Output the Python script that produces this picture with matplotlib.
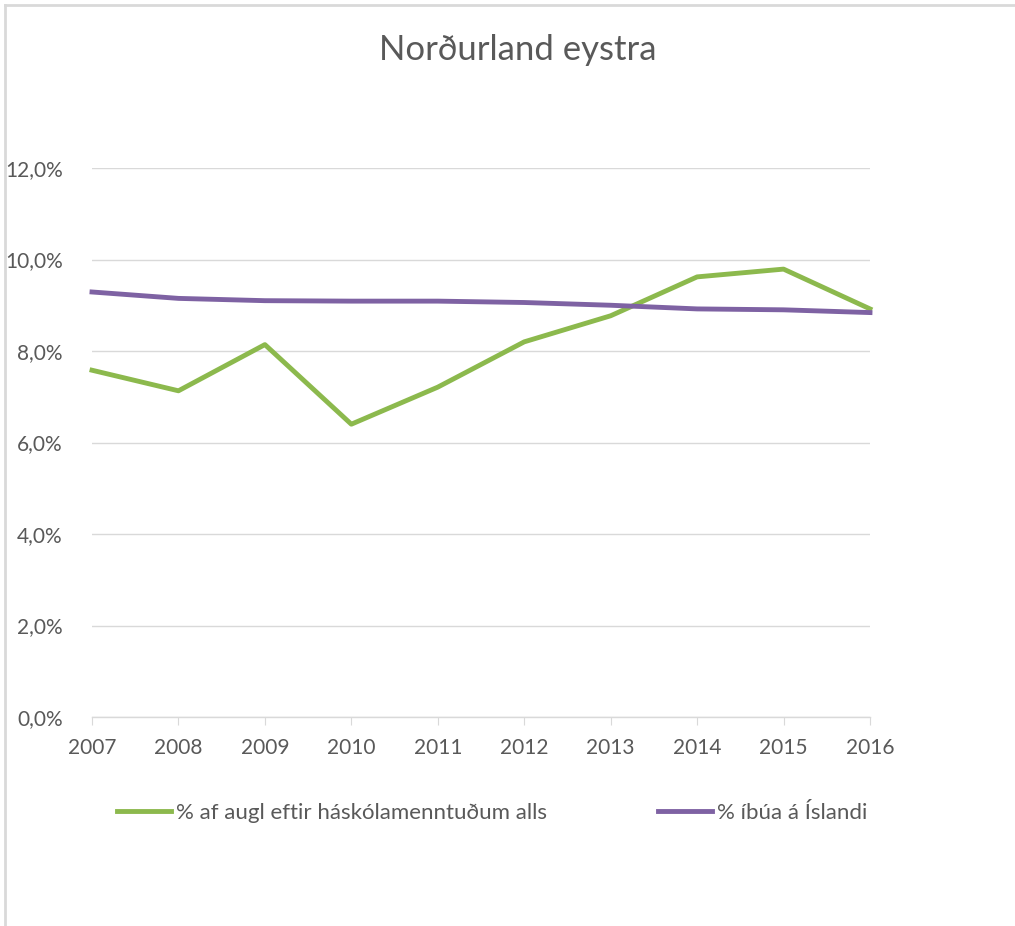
import matplotlib
matplotlib.use("Agg")
import matplotlib.pyplot as plt
from matplotlib.lines import Line2D
from matplotlib.ticker import FuncFormatter, FixedLocator

plt.rcParams['font.family'] = ['Lato', 'DejaVu Sans']

years = [2007, 2008, 2009, 2010, 2011, 2012, 2013, 2014, 2015, 2016]
augl = [0.0758, 0.0713, 0.0814, 0.0640, 0.0721, 0.0820, 0.0877, 0.0962, 0.0979, 0.0892]
ibua = [0.0929, 0.0915, 0.0910, 0.0909, 0.0909, 0.0906, 0.0900, 0.0892, 0.0890, 0.0884]
series_names = ["% af augl eftir háskólamenntuðum alls", "% íbúa á Íslandi"]
title = "Norðurland eystra"

W, H = 1015, 926
fig = plt.figure(figsize=(W/100, H/100), dpi=100)
fig.patch.set_facecolor('white')

# outer chart border (top and left visible)
fig.add_artist(Line2D([5/W, 5/W], [0, 1-5/H], color='#D9D9D9', lw=2, transform=fig.transFigure))
fig.add_artist(Line2D([5/W, 1], [1-5/H, 1-5/H], color='#D9D9D9', lw=2, transform=fig.transFigure))

left, right = 92/W, 870/W
bottom, top = 1-717/H, 1-168/H
ax = fig.add_axes([left, bottom, right-left, top-bottom])

green = '#8CB94D'
purple = '#7E62A3'
text_col = '#595959'

ax.plot(years, augl, color=green, lw=3.5, clip_on=False, label=series_names[0], zorder=3)
ax.plot(years, ibua, color=purple, lw=3.5, clip_on=False, label=series_names[1], zorder=4)

ax.set_xlim(years[0], years[-1])
ax.set_ylim(0, 0.12)
ax.yaxis.set_major_locator(FixedLocator([0, 0.02, 0.04, 0.06, 0.08, 0.10, 0.12]))
ax.yaxis.set_major_formatter(FuncFormatter(lambda v, p: f"{v*100:.1f}%".replace('.', ',')))
ax.set_xticks(years)
ax.set_xticklabels([str(y) for y in years])

ax.grid(axis='y', color='#D9D9D9', lw=1)
ax.set_axisbelow(True)
for s in ['top', 'right', 'left']:
    ax.spines[s].set_visible(False)
ax.spines['bottom'].set_color('#D9D9D9')
ax.spines['bottom'].set_linewidth(1)
ax.tick_params(axis='y', length=0, labelsize=15, labelcolor=text_col, pad=21)
ax.tick_params(axis='x', length=6, color='#D9D9D9', labelsize=15, labelcolor=text_col, pad=9)

fig.text(518/W, 1-50/H, title, ha='center', va='center', fontsize=25, color=text_col)

leg = fig.legend(loc='center', bbox_to_anchor=(492/W, 1-813/H), ncol=2, frameon=False,
                 fontsize=16, labelcolor=text_col, handlelength=2.45, handletextpad=0.2,
                 columnspacing=5.0)

fig.savefig('out.png', dpi=100, facecolor='white')
